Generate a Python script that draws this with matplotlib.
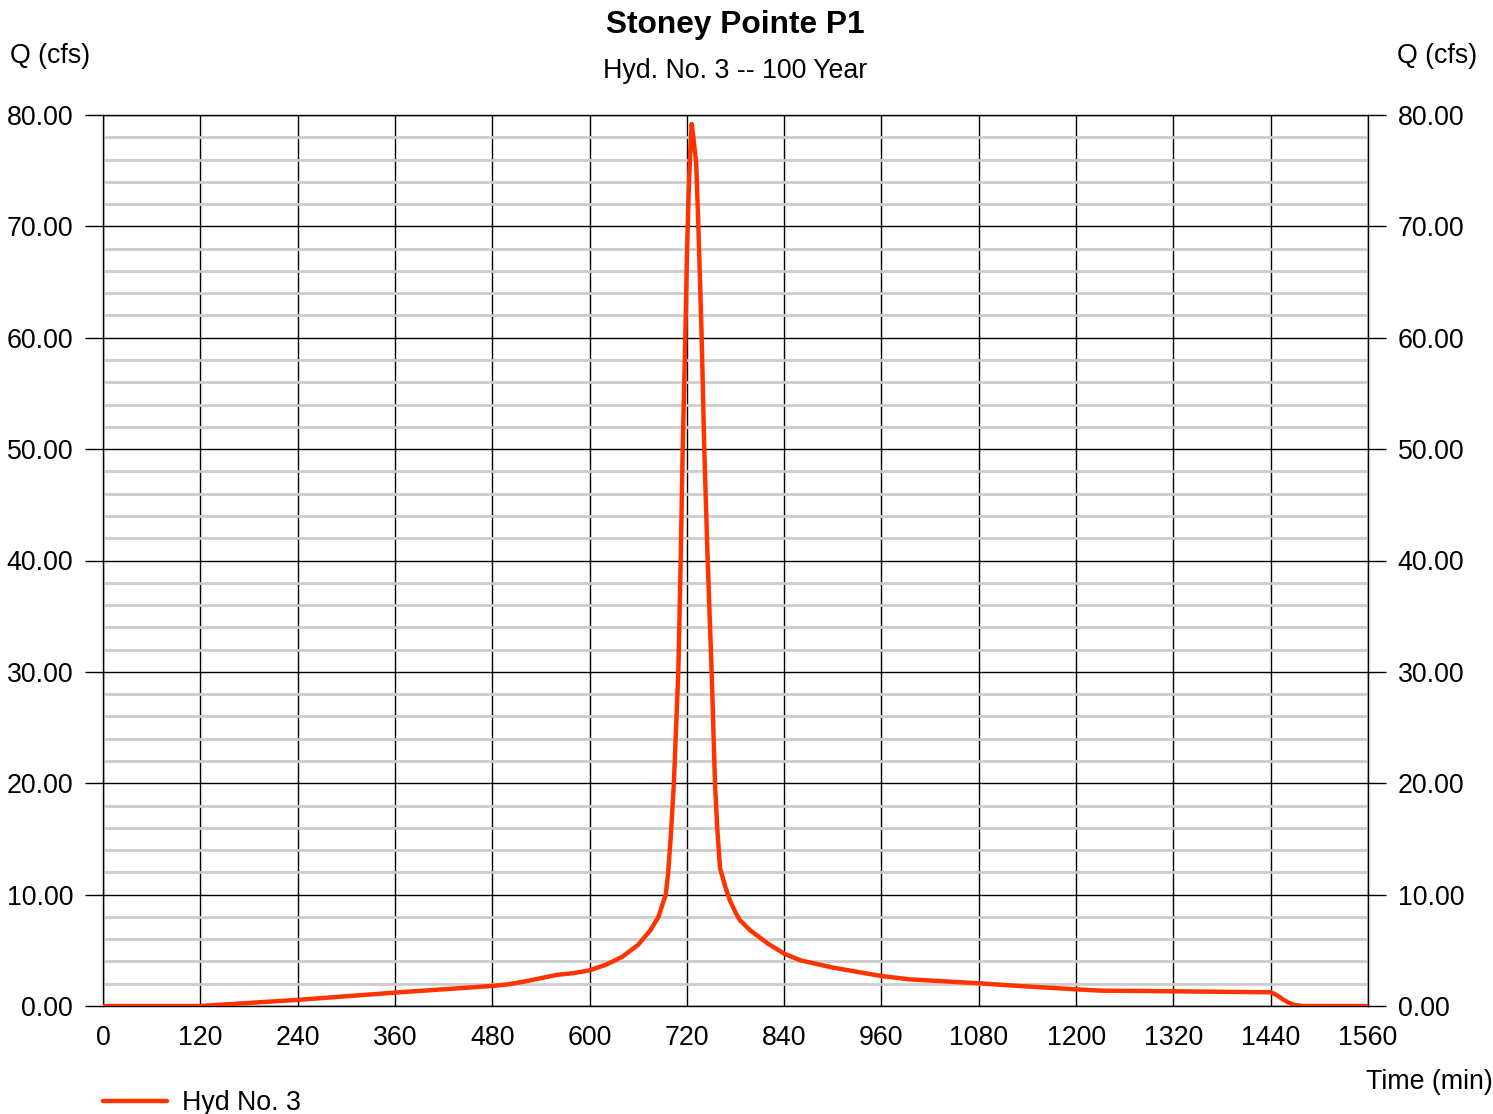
import matplotlib
matplotlib.use("Agg")
import matplotlib.pyplot as plt
from matplotlib.ticker import MultipleLocator

plt.rcParams['font.family'] = ['Liberation Sans', 'DejaVu Sans']

title = "Stoney Pointe P1"
subtitle = "Hyd. No. 3 -- 100 Year"
series_name = "Hyd No. 3"
x_label = "Time (min)"
y_label = "Q (cfs)"

time_min = [0, 120, 240, 360, 480, 500, 520, 540, 560, 580, 600, 620, 640, 660, 675,
            685, 689, 694, 697, 700, 704, 709.5, 712.4, 714.9, 718.1, 720, 722, 724, 726,
            728, 731.5, 734, 736.2, 738.3, 741.5, 745.7, 750.6, 754.7, 757.5, 760.9,
            767, 773, 780, 785.5, 798, 820, 840, 860, 900, 960, 995, 1080, 1140, 1200,
            1230, 1320, 1440, 1447, 1455, 1462, 1470, 1480, 1560]
flow_cfs = [0, 0, 0.55, 1.2, 1.8, 1.95, 2.2, 2.5, 2.8, 2.95, 3.2, 3.7, 4.4, 5.5, 6.8,
            8.0, 8.9, 10.0, 12.0, 15.0, 20.0, 30.0, 40.0, 50.0, 60.0, 67.0, 72.5, 76.5, 79.2,
            78.0, 75.7, 70.5, 65.2, 60.0, 50.0, 40.0, 30.0, 20.0, 16.0, 12.4,
            10.8, 9.5, 8.4, 7.7, 6.8, 5.6, 4.7, 4.1, 3.45, 2.69, 2.39, 2.04, 1.75, 1.5,
            1.38, 1.32, 1.23, 1.0, 0.6, 0.3, 0.08, 0.0, 0.0]

x_ticks = [0, 120, 240, 360, 480, 600, 720, 840, 960, 1080, 1200, 1320, 1440, 1560]
y_ticks = [0, 10, 20, 30, 40, 50, 60, 70, 80]

FS = 19.3

fig = plt.figure(figsize=(14.93, 11.14), dpi=100)
ax = fig.add_axes([103/1493, 1 - 1006/1114, (1368-103)/1493, (1006-115)/1114])

ax.set_xlim(0, 1560)
ax.set_ylim(0, 80)

ax.yaxis.set_minor_locator(MultipleLocator(2))
ax.grid(which='minor', axis='y', color='#cccccc', linewidth=2.0, zorder=0)
ax.grid(which='major', axis='y', color='#000000', linewidth=1.0, zorder=1)
ax.grid(which='major', axis='x', color='#000000', linewidth=1.0, zorder=1)

ax.set_xticks(x_ticks)
ax.set_xticklabels([str(v) for v in x_ticks])
ax.set_yticks(y_ticks)
ax.set_yticklabels([f"{v:.2f}" for v in y_ticks])

ax.tick_params(axis='y', which='major', length=13, width=1.0, color='black',
               labelsize=FS, pad=8.5, left=True, right=True, labelleft=True, labelright=True)
ax.tick_params(axis='y', which='minor', length=0)
ax.tick_params(axis='x', which='major', length=0, labelsize=FS, pad=14)

for s in ax.spines.values():
    s.set_color('black')
    s.set_linewidth(1.0)

line, = ax.plot(time_min, flow_cfs, color='#ff3300', linewidth=3.2, zorder=3,
                solid_joinstyle='round', solid_capstyle='round', label=series_name)

fig.text(735/1493, 1 - 25/1114, title, ha='center', va='center', fontsize=22.8, fontweight='bold')
fig.text(735/1493, 1 - 71/1114, subtitle, ha='center', va='center', fontsize=FS)
fig.text(10/1493, 1 - 56/1114, y_label, ha='left', va='center', fontsize=FS)
fig.text(1477/1493, 1 - 56/1114, y_label, ha='right', va='center', fontsize=FS)
fig.text(1493/1493, 1 - 1082/1114, x_label, ha='right', va='center', fontsize=FS)

fig.legend(handles=[line], labels=[series_name], loc='center left',
           bbox_to_anchor=(103/1493, 1 - 1103/1114), frameon=False, fontsize=FS,
           handlelength=2.4, handletextpad=0.55, borderpad=0, borderaxespad=0)

fig.savefig("out.png", dpi=100)
